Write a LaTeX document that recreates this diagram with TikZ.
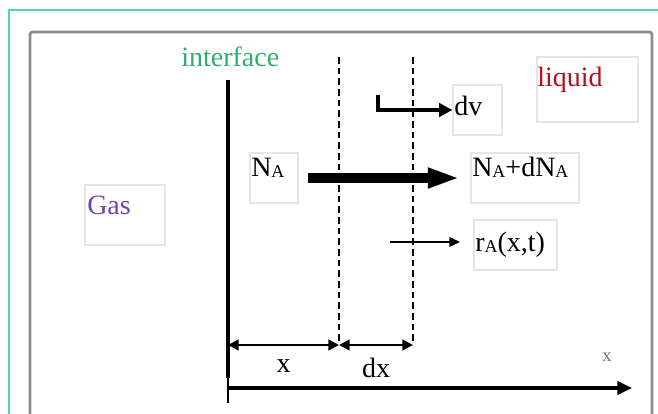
\documentclass[tikz,border=0pt]{standalone}
\usepackage{fontspec}
\setmainfont{Liberation Serif}
\usetikzlibrary{arrows.meta}
\definecolor{teal1}{HTML}{4FD3C2}
\definecolor{ifgreen}{HTML}{2CB067}
\definecolor{liqred}{HTML}{B0121E}
\definecolor{gaspurple}{HTML}{7442A6}
\newcommand{\subA}{\raisebox{-1pt}{\fontsize{13.5}{13.5}\selectfont A}}
\tikzset{
  lbl/.style={font=\fontsize{21}{23}\selectfont, inner sep=0pt, anchor=base west},
  txtbox/.style={draw=black!10, line width=0.8pt, inner sep=0pt},
  bigarrow/.style={line width=7.5pt, -{Triangle[length=24pt,width=14pt]}},
  dimarrow/.style={line width=1.9pt, {Triangle[length=8pt,width=8pt]}-{Triangle[length=8pt,width=8pt]}},
  thinarrow/.style={line width=1.4pt, -{Triangle[length=8pt,width=7pt]}},
}
\begin{document}
\begin{tikzpicture}[x=0.75pt,y=-0.75pt]
\useasboundingbox (0,0) rectangle (658,414);
% frames
\draw[teal1, line width=1.2pt] (9,414) -- (9,10) -- (658,10);
\draw[black!45, line width=2pt, rounded corners=2pt] (30,414) -- (30,32) -- (652,32) -- (652,414);

% text boxes
\node[txtbox, minimum width=60pt, minimum height=45pt] (gasbox) at (125,215) {};
\node[txtbox, minimum width=75.75pt, minimum height=48.75pt] (liqbox) at (587.5,89.5) {};
\node[txtbox, minimum width=36.75pt, minimum height=37.5pt] (dvbox) at (477.5,110) {};
\node[txtbox, minimum width=36pt, minimum height=37.5pt] (NAbox) at (274,178) {};
\node[txtbox, minimum width=81pt, minimum height=37.5pt] (NAdNAbox) at (525,178) {};
\node[txtbox, minimum width=62.25pt, minimum height=37.5pt] (rAbox) at (515.5,245) {};

% labels
\node[lbl, text=ifgreen] (iface) at (181,66) {interface};
\node[lbl, text=liqred] (liquid) at (537,86) {liquid};
\node[lbl, text=gaspurple] (gas) at (87,214) {Gas};
\node[lbl] (dv) at (454,115) {dv};
\node[lbl] (NA) at (251,176) {N\subA};
\node[lbl] (NAdNA) at (472,176) {N\subA+dN\subA};
\node[lbl] (rA) at (475,251) {r\subA(x,t)};

% interface and slice
\coordinate (iftop) at (228,80);
\coordinate (ifbot) at (228,378);
\coordinate (ifend) at (228,403);
\coordinate (s1top) at (339,57);
\coordinate (s1bot) at (339,345);
\coordinate (s2top) at (413,57);
\coordinate (s2bot) at (413,345);
\draw[line width=2.6pt] (iftop) -- (ifbot);
\draw[line width=0.8pt] (ifbot) -- (ifend);
\draw[line width=0.9pt, dash pattern=on 5pt off 3pt] (s1top) -- (s1bot);
\draw[line width=0.9pt, dash pattern=on 5pt off 3pt] (s2top) -- (s2bot);

% fluxes
\draw[bigarrow] (NAbox) -- (NAdNAbox) [shorten <=7pt, shorten >=8pt];
\coordinate (dvstart) at (378,95);
\draw[line width=3pt, -{Triangle[length=10pt,width=10pt]}] (dvstart) |- (dvbox.west);
\coordinate (rstart) at (390,242);
\draw[thinarrow] (rstart) -- (rstart -| rAbox.west) [shorten >=10pt];

% dimensions
\coordinate (dim0) at (228,345);
\draw[dimarrow] (dim0) -- (s1bot) node[lbl, midway, anchor=center, yshift=-16pt] (xl) {x};
\draw[dimarrow] (s1bot) -- (s2bot) node[lbl, midway, anchor=center, yshift=-17pt] (dxl) {dx};

% axis
\coordinate (ax0) at (228,388);
\coordinate (ax1) at (632,388);
\draw[line width=2.3pt, -{Triangle[length=11pt,width=10pt]}] (ax0) -- (ax1);
\node[text=black!55, font=\fontsize{14}{14}\selectfont, inner sep=0pt] (axlbl) at (607,357) {x};
\end{tikzpicture}
\end{document}
